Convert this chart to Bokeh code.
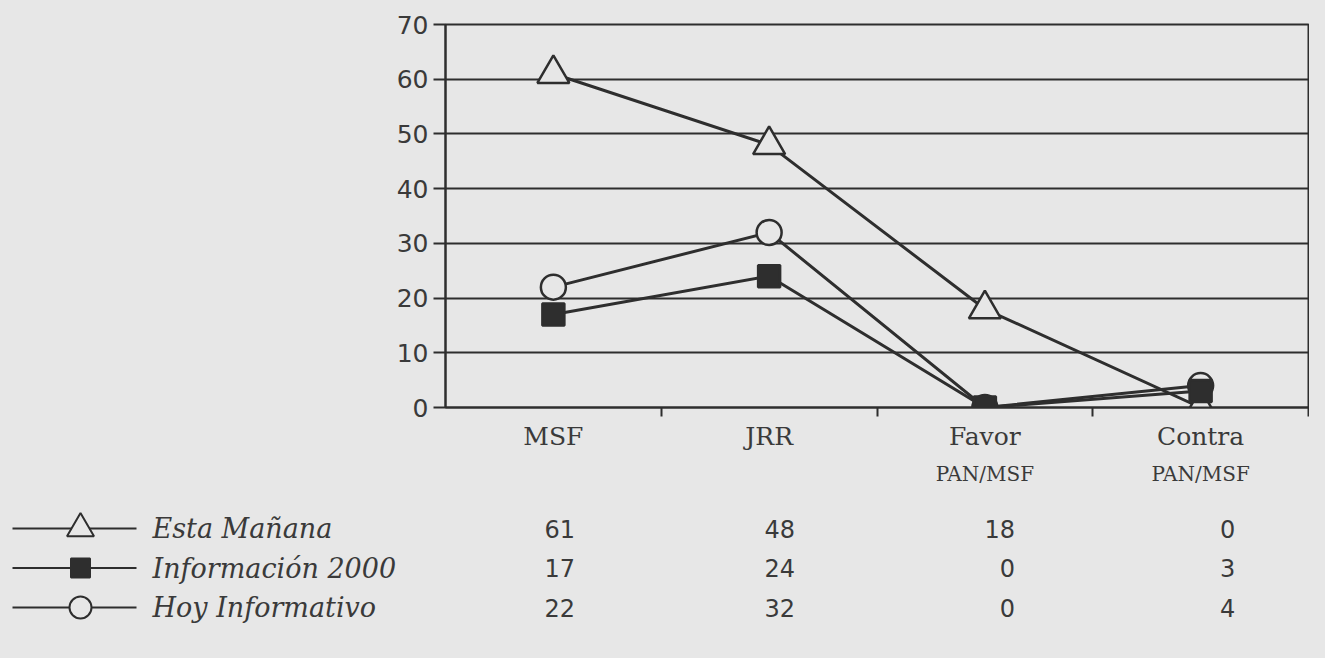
from bokeh.plotting import figure
from bokeh.models import Range1d, FixedTicker, LinearAxis
from bokeh.layouts import column
from bokeh.embed import file_html
from bokeh.resources import INLINE
from bokeh.core.properties import value

# ---------------- data ----------------
categories = ["MSF", "JRR", "Favor", "Contra"]
category_sub = ["", "", "PAN/MSF", "PAN/MSF"]
series_names = ["Esta Mañana", "Información 2000", "Hoy Informativo"]
esta_manana = [61, 48, 18, 0]
informacion_2000 = [17, 24, 0, 3]
hoy_informativo = [22, 32, 0, 4]
y_ticks = [0, 10, 20, 30, 40, 50, 60, 70]

# ---------------- style / layout ----------------
BG = "#e7e7e7"
INK = "#2e2e2e"
TXT = "#3a3a3a"
W = 1309
FR_L, FR_R, FR_T, FR_B = 445, 1308, 24, 407   # chart frame in picture px
BOTTOM_BORDER = 90
H_TOP = FR_B + BOTTOM_BORDER
H_BOT = 642 - H_TOP
n = len(categories)
XMAX = 2 * n                       # each category spans 2 x-units, centre at odd values
U = (FR_R - FR_L) / XMAX


def px2x(px):
    return (px - FR_L) / U


centers = [2 * i + 1 for i in range(n)]
bounds = [2 * i for i in range(1, n + 1)]

series = [
    dict(name=series_names[0], vals=esta_manana, marker="triangle", size=32, fill=BG, lsize=27),
    dict(name=series_names[1], vals=informacion_2000, marker="square", size=22, fill=INK, lsize=19),
    dict(name=series_names[2], vals=hoy_informativo, marker="circle", size=25, fill=BG, lsize=22),
]
draw_order = [0, 2, 1]

# ---------------- top chart ----------------
p1 = figure(width=W, height=H_TOP, x_range=Range1d(0, XMAX),
            y_range=Range1d(y_ticks[0], y_ticks[-1]),
            output_backend="svg", toolbar_location=None,
            min_border_left=FR_L, min_border_right=W - FR_R,
            min_border_top=FR_T, min_border_bottom=BOTTOM_BORDER)
p1.frame_align = False
p1.background_fill_color = BG
p1.border_fill_color = BG
p1.outline_line_color = INK
p1.outline_line_width = 2

p1.xgrid.visible = False
p1.ygrid.grid_line_color = INK
p1.ygrid.grid_line_width = 2

yax = p1.yaxis[0]
yax.ticker = FixedTicker(ticks=y_ticks)
yax.axis_line_color = INK
yax.axis_line_width = 2
yax.major_tick_line_color = INK
yax.major_tick_line_width = 2
yax.major_tick_out = 12
yax.major_tick_in = 0
yax.minor_tick_out = 0
yax.minor_tick_in = 0
yax.major_label_text_font = "DejaVu Sans"
yax.major_label_text_font_size = "25px"
yax.major_label_text_color = TXT
yax.major_label_standoff = 5

# category axis: labels at centres, tick marks (minor) at category boundaries
xax = p1.xaxis[0]
xax.ticker = FixedTicker(ticks=centers, minor_ticks=bounds)
xax.major_label_overrides = {c: lab for c, lab in zip(centers, categories)}
xax.axis_line_color = INK
xax.axis_line_width = 2
xax.major_tick_line_color = None
xax.major_tick_out = 0
xax.major_tick_in = 0
xax.minor_tick_line_color = INK
xax.minor_tick_line_width = 2
xax.minor_tick_out = 9
xax.minor_tick_in = 0
xax.major_label_text_font = "DejaVu Serif"
xax.major_label_text_font_size = "25px"
xax.major_label_text_color = TXT
xax.major_label_standoff = 5

# second line of category labels
sub_ticks = [c for c, s in zip(centers, category_sub) if s]
sub_ax = LinearAxis(ticker=FixedTicker(ticks=sub_ticks),
                    major_label_overrides={c: s for c, s in zip(centers, category_sub) if s})
sub_ax.axis_line_color = None
sub_ax.major_tick_line_color = None
sub_ax.minor_tick_line_color = None
sub_ax.major_tick_out = 0
sub_ax.major_tick_in = 0
sub_ax.major_label_text_font = "DejaVu Serif"
sub_ax.major_label_text_font_size = "20px"
sub_ax.major_label_text_color = TXT
sub_ax.major_label_standoff = 8
p1.add_layout(sub_ax, "below")

for k in draw_order:
    s = series[k]
    p1.line(centers, s["vals"], line_color=INK, line_width=3)
for k in draw_order:
    s = series[k]
    p1.scatter(centers, s["vals"], marker=s["marker"], size=s["size"],
               fill_color=s["fill"], line_color=INK, line_width=2.5)

# ---------------- data table with legend ----------------
p2 = figure(width=W, height=H_BOT, x_range=Range1d(px2x(0), px2x(W)), y_range=Range1d(H_BOT, 0),
            output_backend="svg", toolbar_location=None,
            min_border_left=0, min_border_right=0, min_border_top=0, min_border_bottom=0)
p2.frame_align = False
p2.background_fill_color = BG
p2.border_fill_color = BG
p2.outline_line_color = None
p2.xaxis.visible = False
p2.yaxis.visible = False
p2.grid.visible = False

ROW0 = 528 - H_TOP
ROW_H = 39.5
for r, s in enumerate(series):
    yy = ROW0 + r * ROW_H
    p2.segment(x0=[px2x(12)], x1=[px2x(136)], y0=[yy], y1=[yy], line_color=INK, line_width=2)
    p2.scatter([px2x(80)], [yy], marker=s["marker"], size=s["lsize"], fill_color=s["fill"],
               line_color=INK, line_width=2)
    p2.text(x=[px2x(152)], y=[yy], text=[s["name"]], text_font=value("DejaVu Serif"),
            text_font_style="italic", text_font_size="27px", text_align="left",
            text_baseline="middle", text_color=TXT)
    p2.text(x=[c + 0.2 + 0.04 * i for i, c in enumerate(centers)], y=[yy] * n,
            text=[str(v) for v in s["vals"]], text_font=value("DejaVu Sans"),
            text_font_size="24px", text_align="right", text_baseline="middle", text_color=TXT)

layout = column(p1, p2, spacing=0, styles={"background-color": BG})
html = file_html(layout, INLINE)
html = html.replace("</head>", "<style>html, body { background-color: %s; }</style></head>" % BG, 1)
open("out.html", "w").write(html)
